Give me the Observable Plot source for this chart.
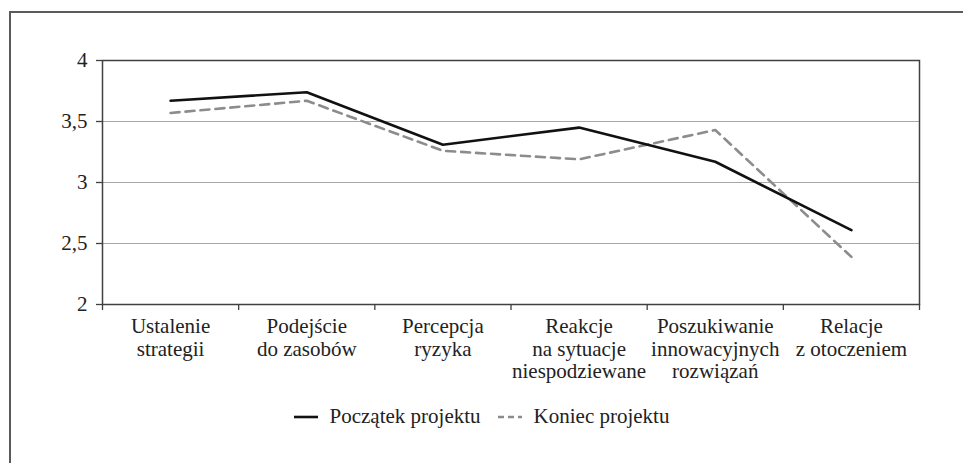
<!DOCTYPE html>
<html>
<head>
<meta charset="utf-8">
<script src="https://cdn.jsdelivr.net/npm/d3@7"></script>
<script src="https://cdn.jsdelivr.net/npm/@observablehq/plot@0.6"></script>
<style>
  html, body { margin: 0; padding: 0; background: #fff; }
  .serif { font-family: 'Liberation Serif'; }
</style>
</head>
<body>
<div id="wrap" class="serif" style="position: relative; width: 963px; height: 463px; overflow: hidden; font-family: 'Liberation Serif';">
  <div id="frame" style="position: absolute; left: 9px; top: 11px; width: 1000px; height: 500px; border: 2px solid #5a5a5a; box-sizing: border-box;"></div>
  <div id="chart" style="position: absolute; left: 0; top: 0;"></div>
  <div id="legend" class="serif" style="position: absolute; left: 0; top: 404px; width: 963px; display: flex; justify-content: center; align-items: center; font-size: 21px; color: #222; font-family: 'Liberation Serif';"></div>
</div>
<script>
const categories = [
  "Ustalenie\nstrategii",
  "Podejście\ndo zasobów",
  "Percepcja\nryzyka",
  "Reakcje\nna sytuacje\nniespodziewane",
  "Poszukiwanie\ninnowacyjnych\nrozwiązań",
  "Relacje\nz otoczeniem"
];
const seriesNames = ["Początek projektu", "Koniec projektu"];
const poczatek = [3.67, 3.74, 3.31, 3.45, 3.17, 2.61];
const koniec   = [3.57, 3.67, 3.26, 3.19, 3.43, 2.39];
const yTicks = [2, 2.5, 3, 3.5, 4];
const gridValues = [2.5, 3, 3.5];

const rows = [];
categories.forEach((c, i) => {
  rows.push({series: seriesNames[0], idx: i + 0.5, value: poczatek[i]});
  rows.push({series: seriesNames[1], idx: i + 0.5, value: koniec[i]});
});
const boundaries = d3.range(0, categories.length + 1);
const centers = categories.map((c, i) => i + 0.5);

const axisColor = "#404040";
const textColor = "#222";

const chart = Plot.plot({
  width: 963,
  height: 395,
  marginLeft: 102,
  marginRight: 44,
  marginTop: 60,
  marginBottom: 91,
  style: { fontFamily: "'Liberation Serif'", fontSize: "21px", color: textColor, background: "transparent" },
  x: { type: "linear", domain: [0, categories.length] },
  y: { domain: [2, 4] },
  marks: [
    Plot.ruleY(gridValues, { stroke: "#a8a8a8", strokeWidth: 1.2 }),
    Plot.frame({ stroke: axisColor, strokeWidth: 1.5 }),
    Plot.axisY({ ticks: yTicks, tickSize: 6, tickPadding: 9, stroke: axisColor, strokeWidth: 1.3, tickFormat: d => String(d).replace(".", ","), label: null, fill: textColor, fontSize: 21 }),
    Plot.axisX({ ticks: boundaries, tickSize: 6, tickFormat: () => "", label: null, stroke: axisColor, strokeWidth: 1.3 }),
    Plot.axisX({ ticks: centers, tickSize: 0, tickPadding: 13, tickFormat: (d, i) => categories[i], label: null, lineHeight: 1.07, fill: textColor, fontSize: 21, textAnchor: "middle" }),
    Plot.line(rows.filter(d => d.series === seriesNames[1]), { x: "idx", y: "value", stroke: "#8c8c8c", strokeWidth: 2.6, strokeDasharray: "9,6" }),
    Plot.line(rows.filter(d => d.series === seriesNames[0]), { x: "idx", y: "value", stroke: "#111", strokeWidth: 2.6 })
  ]
});
chart.setAttribute("font-family", "Liberation Serif");
chart.querySelectorAll("g, text").forEach(el => {
  if (el.getAttribute("font-family")) el.setAttribute("font-family", "Liberation Serif");
});
chart.querySelectorAll("text").forEach(el => { el.style.fontFamily = "'Liberation Serif'"; });
document.getElementById("chart").appendChild(chart);

const legend = d3.select("#legend");
const styles = [
  { stroke: "#111", dash: null },
  { stroke: "#8c8c8c", dash: "6,4" }
];
seriesNames.forEach((name, i) => {
  const item = legend.append("div")
    .style("display", "flex").style("align-items", "center")
    .style("margin", i === 0 ? "0 17px 0 0" : "0");
  const s = item.append("svg").attr("width", 24).attr("height", 10).style("margin-right", "12px");
  s.append("line").attr("x1", 0).attr("x2", 24).attr("y1", 5).attr("y2", 5)
    .attr("stroke", styles[i].stroke).attr("stroke-width", 2.6)
    .attr("stroke-dasharray", styles[i].dash);
  item.append("span").style("font-family", "'Liberation Serif'").text(name);
});
</script>
</body>
</html>
